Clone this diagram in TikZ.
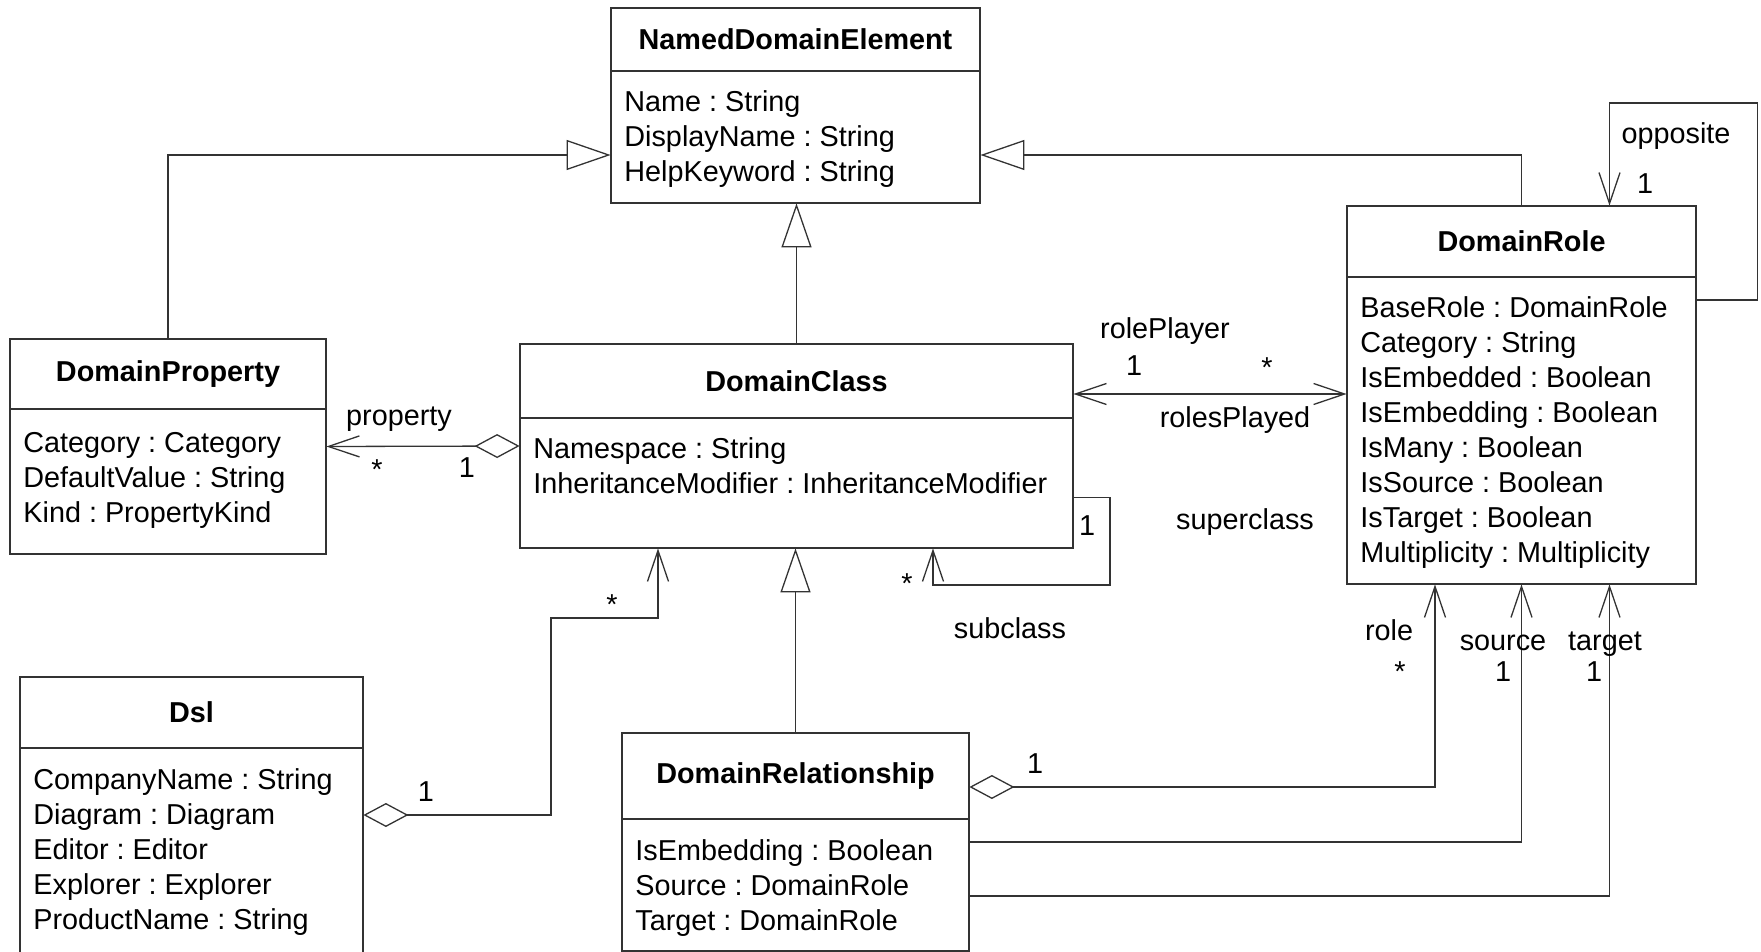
\documentclass[tikz,border=0pt]{standalone}
\usepackage{fontspec}
\setmainfont{Liberation Sans}
\usepackage{tikz}
\usetikzlibrary{arrows.meta,positioning,fit}
\newcommand{\umlfont}{\fontsize{14.4pt}{17.5pt}\selectfont\frenchspacing}
\tikzset{
	umlline/.style={draw=black!80, line width=0.65pt},
	classhead/.style={umlline, anchor=north west, inner sep=0pt, outer sep=0pt,
		font=\umlfont\bfseries},
	classbody/.style={umlline, inner sep=0pt, outer sep=0pt},
	attrs/.style={align=left, inner sep=0pt, font=\umlfont},
	lbl/.style={inner sep=0pt, font=\umlfont}
}

\begin{document}
\begin{tikzpicture}[x=0.5pt,y=-0.5pt]
  \tikzset{
    gen/.style={umlline, -{Triangle[open, length=22pt, width=15pt]}},
    nav/.style={umlline, -{Straight Barb[length=15.5pt, width=10.5pt]}},
    navboth/.style={umlline, {Straight Barb[length=15.5pt, width=10.5pt]}-{Straight Barb[length=15.5pt, width=10.5pt]}},
    aggr/.style={umlline, {Diamond[open, length=22.5pt, width=12pt]}-{Straight Barb[length=15.5pt, width=10.5pt]}}
  }

  \useasboundingbox (0,0) rectangle (1761,952);
  \clip (0,0) rectangle (1761,952);

  % classes
  \node[classhead, minimum width=184.5pt, minimum height=31.5pt] (ndehead) at (611,8) {NamedDomainElement};
  \node[classbody, minimum width=184.5pt, minimum height=66pt, below=0pt of ndehead] (ndebody) {};
  \node[attrs, below right=9.7pt and 6.5pt of ndebody.north west] (ndeattrs)
    {Name : String\\DisplayName : String\\HelpKeyword : String};
  \node[fit=(ndehead)(ndebody), inner sep=0pt] (nde) {};

  \node[classhead, minimum width=158pt, minimum height=35pt] (dphead) at (10,339) {DomainProperty};
  \node[classbody, minimum width=158pt, minimum height=72.5pt, below=0pt of dphead] (dpbody) {};
  \node[attrs, below right=11.5pt and 6.5pt of dpbody.north west] (dpattrs)
    {Category : Category\\DefaultValue : String\\Kind : PropertyKind};
  \node[fit=(dphead)(dpbody), inner sep=0pt] (dp) {};

  \node[classhead, minimum width=276.5pt, minimum height=37pt] (dchead) at (520,344) {DomainClass};
  \node[classbody, minimum width=276.5pt, minimum height=65pt, below=0pt of dchead] (dcbody) {};
  \node[attrs, below right=9.7pt and 6.5pt of dcbody.north west] (dcattrs)
    {Namespace : String\\InheritanceModifier : InheritanceModifier};
  \node[fit=(dchead)(dcbody), inner sep=0pt] (dc) {};

  \node[classhead, minimum width=174.5pt, minimum height=35.5pt] (rolehead) at (1347,206) {DomainRole};
  \node[classbody, minimum width=174.5pt, minimum height=153.5pt, below=0pt of rolehead] (rolebody) {};
  \node[attrs, below right=9.7pt and 6.5pt of rolebody.north west] (roleattrs)
    {BaseRole : DomainRole\\Category : String\\IsEmbedded : Boolean\\IsEmbedding : Boolean\\
     IsMany : Boolean\\IsSource : Boolean\\IsTarget : Boolean\\Multiplicity : Multiplicity};
  \node[fit=(rolehead)(rolebody), inner sep=0pt] (role) {};

  \node[classhead, minimum width=171.5pt, minimum height=35.5pt] (dslhead) at (20,677) {Dsl};
  \node[classbody, minimum width=171.5pt, minimum height=130pt, below=0pt of dslhead] (dslbody) {};
  \node[attrs, below right=10pt and 6.5pt of dslbody.north west] (dslattrs)
    {CompanyName : String\\Diagram : Diagram\\Editor : Editor\\Explorer : Explorer\\ProductName : String};
  \node[fit=(dslhead)(dslbody), inner sep=0pt] (dsl) {};

  \node[classhead, minimum width=173.5pt, minimum height=43pt] (drelhead) at (622,733) {DomainRelationship};
  \node[classbody, minimum width=173.5pt, minimum height=66pt, below=0pt of drelhead] (drelbody) {};
  \node[attrs, below right=10pt and 6.5pt of drelbody.north west] (drelattrs)
    {IsEmbedding : Boolean\\Source : DomainRole\\Target : DomainRole};
  \node[fit=(drelhead)(drelbody), inner sep=0pt] (drel) {};

  % generalizations
  \coordinate (genbar) at (0,155);
  \draw[gen] (dp.north) |- (nde.west |- genbar);
  \draw[gen] (role.north) |- (nde.east |- genbar);
  \draw[gen] (dc.north) -- (dc.north |- nde.south);
  \draw[gen] (drel.north) -- (drel.north |- dc.south);

  % associations
  \draw[aggr] (dc.west) -- (dp.east);
  \coordinate (rpbar) at (0,394);
  \draw[navboth] (dc.east |- rpbar) -- (role.west |- rpbar);

  \coordinate (supy) at (0,497.5);
  \coordinate (supright) at (1110,585);
  \coordinate (subleft) at (933,585);
  \draw[nav] (dc.east |- supy) -| (supright) -- (subleft) -- (subleft |- dc.south);

  \coordinate (dslbend) at (551,815);
  \coordinate (dslstep) at (658,618);
  \draw[aggr] (dsl.east |- dslbend) -- (dslbend) |- (dslstep) -- (dslstep |- dc.south);

  \coordinate (rolex) at (1435,787);
  \draw[aggr] (drel.east |- rolex) -| (rolex |- role.south);
  \coordinate (srcy) at (0,842);
  \draw[nav] (drel.east |- srcy) -| (role.south);
  \coordinate (tgtx) at (1609.5,896);
  \draw[nav] (drel.east |- tgtx) -| (tgtx |- role.south);

  \coordinate (oppcorner) at (1757.5,300);
  \coordinate (opptop) at (1609.5,103);
  \draw[nav] (role.east |- oppcorner) -- (oppcorner) |- (opptop) -- (opptop |- role.north);

  % role names and multiplicities
  \node[lbl] (lprop) at (399,419) {property};
  \node[lbl] (lpropm) at (377,470) {*};
  \node[lbl] (lpropo) at (467,468) {1};
  \node[lbl] (lrp) at (1165,331) {rolePlayer};
  \node[lbl] (lrpo) at (1134,366) {1};
  \node[lbl] (lrpm) at (1267,368) {*};
  \node[lbl] (lrps) at (1235,420) {rolesPlayed};
  \node[lbl] (lsupo) at (1087,526) {1};
  \node[lbl] (lsubm) at (907,584) {*};
  \node[lbl] (lsup) at (1245,522) {superclass};
  \node[lbl] (lsub) at (1010,628) {subclass};
  \node[lbl] (ldslo) at (426,792) {1};
  \node[lbl] (ldslm) at (612,605) {*};
  \node[lbl] (lroleo) at (1035,764) {1};
  \node[lbl] (lrole) at (1389,630) {role};
  \node[lbl] (lrolem) at (1400,672) {*};
  \node[lbl] (lsrc) at (1503,643) {source};
  \node[lbl] (lsrco) at (1503,672) {1};
  \node[lbl] (ltgt) at (1605,644) {target};
  \node[lbl] (ltgto) at (1594,672) {1};
  \node[lbl] (lopp) at (1676,136) {opposite};
  \node[lbl] (loppo) at (1645,184) {1};
\end{tikzpicture}
\end{document}
